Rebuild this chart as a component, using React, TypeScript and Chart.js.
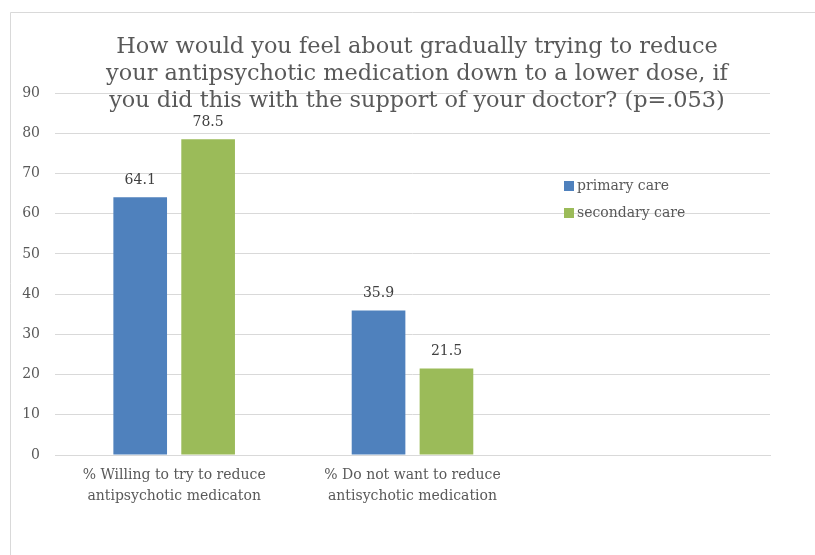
import React, { useEffect, useRef } from "react";
import { Chart, registerables } from "chart.js";

Chart.register(...registerables);

// Chart content
const titleLines = [
  "How would you feel about gradually trying to reduce",
  "your antipsychotic medication down to a lower dose, if",
  "you did this with the support of your doctor? (p=.053)",
];
const categories: string[][] = [
  ["% Willing to try to reduce", "antipsychotic medicaton"],
  ["% Do not want to reduce", "antisychotic medication"],
  [""],
];
const primaryCare = [64.1, 35.9, null];
const secondaryCare = [78.5, 21.5, null];
const seriesNames = ["primary care", "secondary care"];
const seriesColors = ["#4f81bd", "#9bbb59"];
const yTicks = [0, 10, 20, 30, 40, 50, 60, 70, 80, 90];

const FONT = "'DejaVu Serif', serif";
const TEXT = "#595959";
const GRID = "#d9d9d9";

const decorPlugin = {
  id: "decor",
  beforeDraw(chart: any) {
    const { ctx, width, height } = chart;
    ctx.save();
    ctx.fillStyle = "#ffffff";
    ctx.fillRect(0, 0, width, height);
    ctx.strokeStyle = GRID;
    ctx.lineWidth = 1;
    ctx.beginPath();
    ctx.moveTo(10.5, height);
    ctx.lineTo(10.5, 12.5);
    ctx.lineTo(width, 12.5);
    ctx.stroke();
    ctx.restore();
  },
  afterDatasetsDraw(chart: any) {
    const { ctx } = chart;
    ctx.save();
    // value labels above bars
    ctx.font = `14px ${FONT}`;
    ctx.fillStyle = "#404040";
    ctx.textAlign = "center";
    ctx.textBaseline = "middle";
    chart.data.datasets.forEach((ds: any, i: number) => {
      const meta = chart.getDatasetMeta(i);
      meta.data.forEach((bar: any, j: number) => {
        const v = ds.data[j];
        if (v == null) return;
        ctx.fillText(v.toFixed(1), bar.x, bar.y - 17);
      });
    });
    // legend
    ctx.font = `14px ${FONT}`;
    ctx.textAlign = "left";
    seriesNames.forEach((name, i) => {
      const y = 186 + i * 27;
      ctx.fillStyle = seriesColors[i];
      ctx.fillRect(564, y - 5, 10, 10);
      ctx.fillStyle = TEXT;
      ctx.fillText(name, 577, y);
    });
    // title
    ctx.font = `22.4px ${FONT}`;
    ctx.textAlign = "center";
    ctx.fillStyle = TEXT;
    titleLines.forEach((line, i) => {
      ctx.fillText(line, 417, 47 + i * 27);
    });
    ctx.restore();
  },
};

export default function App() {
  const ref = useRef<HTMLCanvasElement>(null);
  useEffect(() => {
    const chart = new Chart(ref.current!, {
      type: "bar",
      data: {
        labels: categories,
        datasets: [
          {
            label: seriesNames[0],
            data: primaryCare,
            backgroundColor: seriesColors[0],
            categoryPercentage: 0.57,
            barPercentage: 0.79,
          },
          {
            label: seriesNames[1],
            data: secondaryCare,
            backgroundColor: seriesColors[1],
            categoryPercentage: 0.57,
            barPercentage: 0.79,
          },
        ],
      },
      options: {
        animation: false,
        responsive: false,
        layout: { padding: { top: 93, right: 45, left: 0, bottom: 0 } },
        plugins: {
          legend: { display: false },
          title: { display: false },
          tooltip: { enabled: false },
        },
        scales: {
          x: {
            grid: { display: false, drawTicks: false },
            border: { color: GRID },
            ticks: {
              color: TEXT,
              font: { family: FONT, size: 14, lineHeight: 1.5 },
              padding: 10,
              maxRotation: 0,
              autoSkip: false,
            },
            afterFit(s: any) {
              s.height = 100;
            },
          },
          y: {
            min: 0,
            max: 90,
            afterBuildTicks(s: any) {
              s.ticks = yTicks.map((v) => ({ value: v }));
            },
            grid: { color: GRID, drawTicks: false },
            border: { display: false },
            ticks: {
              color: TEXT,
              font: { family: FONT, size: 14 },
              padding: 15,
            },
            afterFit(s: any) {
              s.width = 55;
            },
          },
        },
      },
      plugins: [decorPlugin],
    });
    return () => chart.destroy();
  }, []);
  return (
    <div style={{ position: "absolute", left: 0, top: 0 }}>
      <canvas ref={ref} width={815} height={555} style={{ display: "block" }} />
    </div>
  );
}
